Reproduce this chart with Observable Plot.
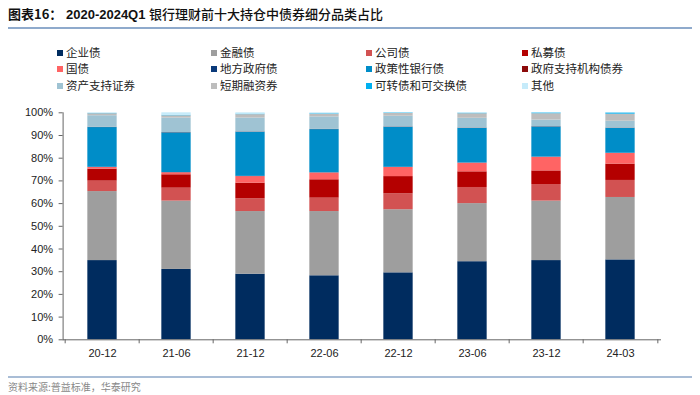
<!DOCTYPE html>
<html>
<head>
<meta charset="utf-8">
<script src="https://cdn.jsdelivr.net/npm/d3@7"></script>
<script src="https://cdn.jsdelivr.net/npm/@observablehq/plot@0.6"></script>
<style>
  html, body { margin: 0; padding: 0; background: #fff; }
  body { width: 700px; height: 395px; position: relative; overflow: hidden; font-family: "Noto Sans CJK SC", "Liberation Sans", sans-serif; }
  #title { position: absolute; left: 8px; top: 4px; font-size: 13px; color: #111; white-space: nowrap; }
  #title .b { font-weight: bold; }
  #title .num { font-family: "Liberation Sans", Arial, sans-serif; font-weight: bold; }
  #title .cn { font-weight: 500; }
  #topline { position: absolute; left: 8px; width: 684px; top: 27px; height: 2px; background: #8faacc; }
  #legend { position: absolute; left: 0; top: 44px; width: 700px; height: 50px; }
  .li { position: absolute; font-size: 11.5px; color: #222; white-space: nowrap; line-height: 14px; }
  .li span.sw { display: inline-block; width: 6px; height: 6px; margin-right: 3px; vertical-align: 1px; }
  #chart { position: absolute; left: 0; top: 100px; }
  #botline { position: absolute; left: 8px; width: 684px; top: 376px; height: 2px; background: #a9bdd6; }
  #source { position: absolute; left: 8px; top: 379px; font-size: 10px; color: #888; white-space: nowrap; }
</style>
</head>
<body>
<div id="title"><span class="b">图表16：</span><span class="num">  2020-2024Q1 </span><span class="cn">银行理财前十大持仓中债券细分品类占比</span></div>
<div id="topline"></div>
<div id="legend"></div>
<div id="chart"></div>
<div id="botline"></div>
<div id="source">资料来源:普益标准，华泰研究</div>
<script>
// Categories (periods)
const periods = ["20-12", "21-06", "21-12", "22-06", "22-12", "23-06", "23-12", "24-03"];

// Series names (stack order, bottom to top)
const seriesNames = ["企业债", "金融债", "公司债", "私募债", "国债", "地方政府债", "政策性银行债", "政府支持机构债券", "资产支持证券", "短期融资券", "可转债和可交换债", "其他"];

// Series colours
const seriesColors = ["#002c5f", "#9e9e9e", "#d25252", "#b40000", "#ff6464", "#0a3a7a", "#008dc8", "#8c0a0a", "#9fc3d3", "#bdbdbd", "#00b0f0", "#c6ebfa"];

// Values (%) per series, one per period
const corporate   = [34.9, 31.0, 28.9, 28.2, 29.5, 34.4, 34.9, 35.2]; // 企业债
const financial   = [30.4, 30.1, 27.6, 28.3, 27.8, 25.6, 26.2, 27.5]; // 金融债
const company     = [4.6, 5.7, 5.6, 5.9, 7.0, 7.1, 7.3, 7.5];         // 公司债
const privatePl   = [5.3, 5.9, 6.9, 8.1, 7.6, 6.9, 6.0, 7.2];         // 私募债
const treasury    = [0.7, 0.9, 2.9, 3.0, 4.0, 3.8, 6.0, 4.7];         // 国债
const localGov    = [0.1, 0.1, 0.1, 0.1, 0.1, 0.1, 0.1, 0.1];         // 地方政府债
const policyBank  = [17.5, 17.5, 19.5, 19.0, 17.7, 15.3, 13.3, 11.0]; // 政策性银行债
const govAgency   = [0.1, 0.1, 0.1, 0.1, 0.1, 0.1, 0.1, 0.1];         // 政府支持机构债券
const abs         = [5.1, 6.4, 6.1, 5.5, 4.7, 4.3, 2.9, 3.0];         // 资产支持证券
const shortTerm   = [0.9, 1.0, 1.5, 1.2, 1.2, 2.0, 2.8, 3.1];         // 短期融资券
const convertible = [0.1, 0.2, 0.2, 0.2, 0.2, 0.2, 0.3, 0.5];         // 可转债和可交换债
const other       = [0.3, 1.1, 0.6, 0.4, 0.1, 0.2, 0.1, 0.1];         // 其他

// Y tick values
const yTicks = [0, 10, 20, 30, 40, 50, 60, 70, 80, 90, 100];

const seriesValues = [corporate, financial, company, privatePl, treasury, localGov, policyBank, govAgency, abs, shortTerm, convertible, other];

const rows = [];
seriesNames.forEach((s, i) => {
  periods.forEach((p, j) => rows.push({period: p, series: s, value: seriesValues[i][j]}));
});

// Legend (3 rows x 4 columns, row-major)
const legend = document.getElementById("legend");
const colX = [57, 211, 366, 522];
const rowY = [1, 17, 34];
seriesNames.forEach((s, i) => {
  const d = document.createElement("div");
  d.className = "li";
  d.style.left = colX[i % 4] + "px";
  d.style.top = rowY[Math.floor(i / 4)] + "px";
  d.innerHTML = `<span class="sw" style="background:${seriesColors[i]}"></span>${s}`;
  legend.appendChild(d);
});

const W = 700, H = 270;
const mL = 62.6, mR = 40, mT = 12.3, mB = 30.7;
const bw = (W - mL - mR) / periods.length;
const barW = 30;
const inset = (bw - barW) / 2;

const chart = Plot.plot({
  width: W,
  height: H,
  marginLeft: mL,
  marginRight: mR,
  marginTop: mT,
  marginBottom: mB,
  style: {fontFamily: "'Liberation Sans', Arial, sans-serif", fontSize: "11px", color: "#222", background: "#fff"},
  x: {domain: periods, padding: 0, label: null},
  y: {domain: [0, 100], label: null},
  color: {domain: seriesNames, range: seriesColors},
  marks: [
    Plot.barY(rows, {x: "period", y: "value", fill: "series", insetLeft: inset, insetRight: inset, order: null}),
    Plot.axisY({ticks: yTicks, tickFormat: d => d + "%", tickSize: 4, tickPadding: 6, stroke: "#666", fontSize: 11, label: null}),
    Plot.axisX({tickSize: 0, tickPadding: 9, fontSize: 11, label: null}),
    Plot.axisX({ticks: periods, tickSize: 4, tickFormat: () => "", dx: -bw / 2, stroke: "#666", label: null}),
    Plot.axisX({ticks: [periods[periods.length - 1]], tickSize: 4, tickFormat: () => "", dx: bw / 2, stroke: "#666", label: null}),
    Plot.frame({anchor: "left", stroke: "#666"}),
    Plot.frame({anchor: "bottom", stroke: "#666"})
  ]
});
document.getElementById("chart").appendChild(chart);
</script>
</body>
</html>
